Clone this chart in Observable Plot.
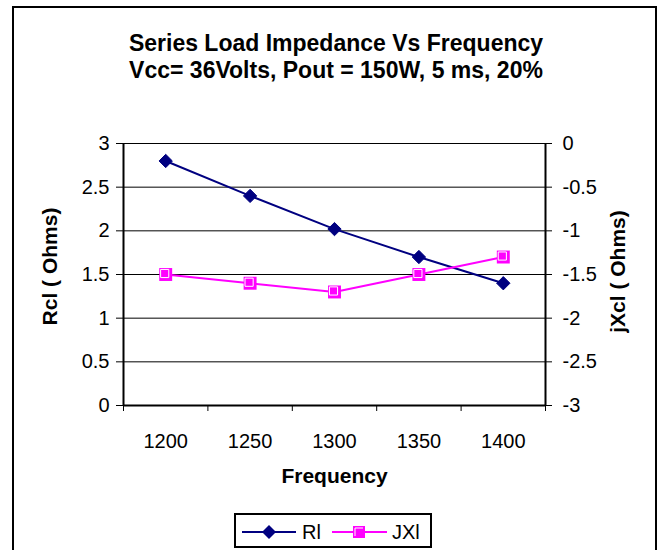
<!DOCTYPE html>
<html>
<head>
<meta charset="utf-8">
<script src="https://cdn.jsdelivr.net/npm/d3@7"></script>
<script src="https://cdn.jsdelivr.net/npm/@observablehq/plot@0.6"></script>
<style>
  body { margin: 0; background: white; }
  #wrap { position: relative; width: 660px; height: 550px; overflow: hidden; font-family: "Liberation Sans", Arial, sans-serif; color: black; }
  #chart { position: absolute; left: 0; top: 0; }
  #frame { position: absolute; left: 12px; top: 6px; width: 645px; height: 600px; border: 2px solid black; box-sizing: border-box; }
  #title { position: absolute; left: 36px; top: 30px; width: 600px; text-align: center; font-weight: bold; font-size: 23px; line-height: 27px; }
  #legend { position: absolute; left: 234px; top: 513px; width: 198px; height: 35px; border: 2px solid black; box-sizing: border-box; background: white; }
</style>
</head>
<body>
<div id="wrap">
  <div id="chart"></div>
  <div id="frame"></div>
  <div id="title">Series Load Impedance Vs Frequency<br>Vcc= 36Volts, Pout = 150W, 5 ms, 20%</div>
  <div id="legend">
    <svg width="194" height="31" style="position:absolute;left:0;top:0;font-family:'Liberation Sans', Arial, sans-serif">
      <line x1="6" x2="60" y1="17" y2="17" stroke="#000080" stroke-width="2"/>
      <path d="M33,10 L40,17 L33,24 L26,17 Z" fill="#000080"/>
      <text x="66" y="24" font-size="20">Rl</text>
      <line x1="96" x2="151" y1="17" y2="17" stroke="#FF00FF" stroke-width="2"/>
      <rect x="117" y="11" width="12" height="12" fill="#FF00FF"/>
      <path d="M119,21 L119,13 L127,13" fill="none" stroke="white" stroke-width="1"/>
      <text x="156" y="24" font-size="20">JXl</text>
    </svg>
  </div>
</div>
<script>
// Data
const freqs = [1200, 1250, 1300, 1350, 1400];
const rl = [2.8, 2.4, 2.02, 1.7, 1.4];          // Rl (left axis, Ohms)
const jxl = [-1.5, -1.6, -1.7, -1.5, -1.3];     // JXl (right axis, Ohms)
const leftTicks = [0, 0.5, 1, 1.5, 2, 2.5, 3];
const leftDomain = [0, 3];
const rightDomain = [-3, 0];
const xDomain = [1175, 1425];
const categoryEdges = [1175, 1225, 1275, 1325, 1375, 1425];

const rows = freqs.map((f, i) => ({f, rl: rl[i], jxl: jxl[i]}));
const toLeft = v => v - rightDomain[0]; // map right-axis value onto left scale
const fmt = v => String(v);

const chart = Plot.plot({
  width: 660,
  height: 550,
  marginLeft: 123,
  marginRight: 115,
  marginTop: 143,
  marginBottom: 145,
  x: {type: "linear", domain: xDomain},
  y: {domain: leftDomain},
  style: {fontFamily: "'Liberation Sans', Arial, sans-serif", fontSize: "20px", color: "black", background: "transparent", overflow: "visible"},
  marks: [
    Plot.gridY(leftTicks, {stroke: "black", strokeOpacity: 1, strokeWidth: 1}),
    Plot.axisY({ticks: leftTicks, anchor: "left", tickSize: 7, tickPadding: 7, label: null, tickFormat: fmt, fill: "black"}),
    Plot.axisY({ticks: leftTicks, anchor: "right", tickSize: 6, tickPadding: 11, label: null, tickFormat: d => String(d + rightDomain[0]), fill: "black"}),
    Plot.axisX({ticks: categoryEdges, anchor: "bottom", tickSize: 6, label: null, tickFormat: () => ""}),
    Plot.axisX({ticks: freqs, anchor: "bottom", tickSize: 0, tickPadding: 28, label: null, tickFormat: fmt, fill: "black"}),
    Plot.ruleX(xDomain, {stroke: "black", strokeWidth: 2}),
    Plot.ruleY([leftDomain[0]], {stroke: "black", strokeWidth: 2}),
    Plot.line(rows, {x: "f", y: "rl", stroke: "#000080", strokeWidth: 2}),
    Plot.dot(rows, {x: "f", y: "rl", symbol: "diamond2", r: 6, fill: "#000080", stroke: "#000080", strokeWidth: 1}),
    Plot.line(rows, {x: "f", y: d => toLeft(d.jxl), stroke: "#FF00FF", strokeWidth: 2}),
    Plot.dot(rows, {x: "f", y: d => toLeft(d.jxl), symbol: "square", r: 7.3, fill: "#FF00FF"}),
    Plot.dot(rows, {x: "f", y: d => toLeft(d.jxl), symbol: "square", r: 4.6, fill: "none", stroke: "white", strokeWidth: 1, dx: -1, dy: -1}),
    Plot.text(["Frequency"], {text: d => d, frameAnchor: "bottom", lineAnchor: "middle", textAnchor: "middle", dy: 71, fontWeight: "bold", fontSize: 21, fill: "black"}),
    Plot.text(["Rcl ( Ohms)"], {text: d => d, frameAnchor: "left", textAnchor: "middle", lineAnchor: "middle", rotate: -90, dx: -73, dy: -8, fontWeight: "bold", fontSize: 21, fill: "black"}),
    Plot.text(["jXcl ( Ohms)"], {text: d => d, frameAnchor: "right", textAnchor: "middle", lineAnchor: "middle", rotate: -90, dx: 73, dy: -3, fontWeight: "bold", fontSize: 21, fill: "black"})
  ]
});
document.getElementById("chart").appendChild(chart);
</script>
</body>
</html>
